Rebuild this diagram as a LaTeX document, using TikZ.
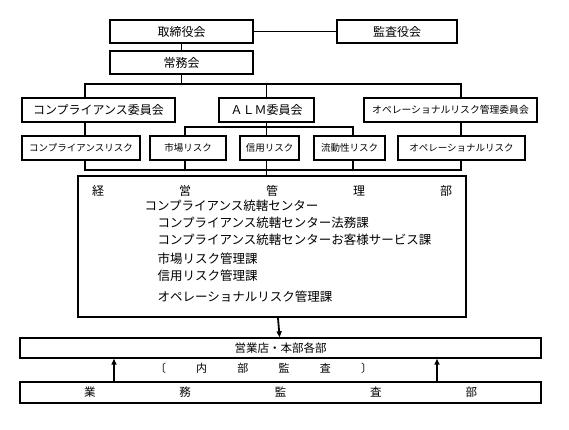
\documentclass[tikz,border=0pt]{standalone}
\usepackage{fontspec}
\setmainfont{Noto Sans CJK JP}
\usetikzlibrary{arrows.meta}
\begin{document}
\begin{tikzpicture}[x=1pt,y=-1pt,line width=1.1pt,
       block/.style={rectangle,draw,line width=1.4pt,inner sep=0pt,minimum height=23pt,font=\fontsize{12}{14}\selectfont},
       risk/.style={block,minimum height=24pt,font=\fontsize{9.5}{11}\selectfont},
       item/.style={anchor=west,inner sep=0pt,font=\fontsize{12.5}{14}\selectfont},
       flow/.style={-{Triangle[length=6pt,width=5pt]},line width=1.8pt}]
   \useasboundingbox (0,0) rectangle (569,430);
   \node [block,minimum width=143pt] (bod) at (181.5,31.5) {取締役会};
   \node [block,minimum width=120pt] (kansa) at (397,31.5) {監査役会};
   \node [block,minimum width=143pt] (jomu) at (181.5,62.5) {常務会};
   \node [block,minimum width=153pt,minimum height=24pt] (cc) at (98.5,110) {コンプライアンス委員会};
   \node [block,minimum width=95pt,minimum height=24pt] (alm) at (266.5,110) {ＡＬＭ委員会};
   \node [block,minimum width=173pt,minimum height=24pt,font=\fontsize{9.8}{11}\selectfont] (orc) at (450.5,110) {オペレーショナルリスク管理委員会};
   \node [risk,minimum width=118pt] (r1) at (81,148) {コンプライアンスリスク};
   \node [risk,minimum width=76pt] (r2) at (188,148) {市場リスク};
   \node [risk,minimum width=59pt] (r3) at (269.5,148) {信用リスク};
   \node [risk,minimum width=71pt] (r4) at (349.5,148) {流動性リスク};
   \node [risk,minimum width=127pt] (r5) at (461.5,148) {オペレーショナルリスク};
   \node [block,minimum width=388pt,minimum height=141pt] (keiei) at (272,246.5) {};
   \node [block,minimum width=521pt,minimum height=20pt,font=\fontsize{11.5}{13}\selectfont] (eigyo) at (280.5,348) {営業店・本部各部};
   \node [block,minimum width=521pt,minimum height=21pt,font=\fontsize{11.5}{13}\selectfont] (gyomu) at (280.5,392.5)
       {\makebox[393pt]{業\hfill 務\hfill 監\hfill 査\hfill 部}};
   \node [font=\fontsize{12}{14}\selectfont,inner sep=0pt] (kt) at (272,191) {\makebox[360pt]{経\hfill 営\hfill 管\hfill 理\hfill 部}};
   \node [item] (k1) at (144,206) {コンプライアンス統轄センター};
   \node [item] (k2) at (157,223) {コンプライアンス統轄センター法務課};
   \node [item] (k3) at (157,240) {コンプライアンス統轄センターお客様サービス課};
   \node [item] (k4) at (157,259) {市場リスク管理課};
   \node [item] (k5) at (157,276) {信用リスク管理課};
   \node [item] (k6) at (157,297) {オペレーショナルリスク管理課};
   \node [font=\fontsize{11}{13}\selectfont,inner sep=0pt] (nb) at (263.5,368) {\makebox[217pt]{〔\hfill 内\hfill 部\hfill 監\hfill 査\hfill 〕}};
   \coordinate (t1) at (85,84);
   \coordinate (t2) at (461,84);
   \coordinate (a1) at (185,127);
   \coordinate (a2) at (353,127);
   \coordinate (b1) at (85,170);
   \coordinate (b2) at (461,170);
   \coordinate (u1) at (114,0);
   \coordinate (u2) at (437,0);
   \draw (bod) -- (kansa);
   \draw (bod) -- (jomu);
   \draw (jomu) -- (jomu |- t1);
   \draw (cc.north -| t1) -- (t1) -- (t2) -- (orc.north -| t2);
   \draw (alm) -- (alm |- t1);
   \draw (cc.south -| t1) -- (r1.north -| t1);
   \draw (alm.south) -- (alm.south |- a1);
   \draw (r2.north -| a1) -- (a1) -- (a2) -- (r4.north -| a2);
   \draw (alm.south |- a1) -- (r3.north -| alm);
   \draw (orc.south -| t2) -- (r5.north -| t2);
   \draw (r1.south -| b1) -- (b1) -- (b2) -- (r5.south -| b2);
   \draw (r2.south -| a1) -- (a1 |- b1);
   \draw (r4.south -| a2) -- (a2 |- b1);
   \draw (r3.south -| alm) -- (keiei.north -| alm);
   \draw [flow] (keiei) -- (eigyo);
   \draw [flow] (gyomu.north -| u1) -- (eigyo.south -| u1);
   \draw [flow] (gyomu.north -| u2) -- (eigyo.south -| u2);
\end{tikzpicture}
\end{document}
